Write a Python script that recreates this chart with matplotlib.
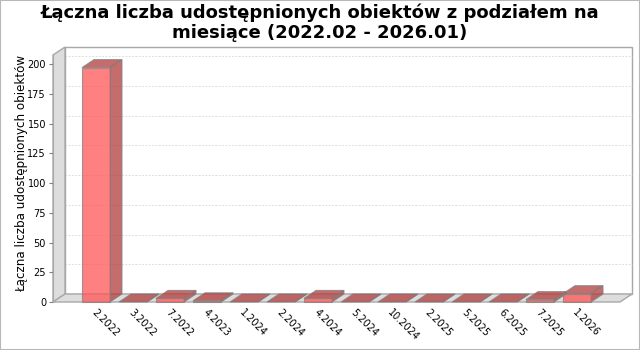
import matplotlib
matplotlib.use("Agg")
import matplotlib.pyplot as plt
from matplotlib.patches import Polygon, Rectangle
from matplotlib.transforms import ScaledTranslation

categories = ["2.2022", "3.2022", "7.2022", "4.2023", "1.2024", "2.2024", "4.2024",
              "5.2024", "10.2024", "2.2025", "5.2025", "6.2025", "7.2025", "1.2026"]
values = [197, 0, 3, 1, 0, 0, 3, 0, 0, 0, 0, 0, 2, 7]
yticks = [0, 25, 50, 75, 100, 125, 150, 175, 200]
title = "Łączna liczba udostępnionych obiektów z podziałem na\nmiesiące (2022.02 - 2026.01)"
ylabel = "Łączna liczba udostępnionych obiektów"

W, H, DPI = 640, 350, 100
fig = plt.figure(figsize=(W / DPI, H / DPI), dpi=DPI)
fig.patch.set_facecolor("white")

# front plot area in pixels
L, R, B, T = 53, 620, 302, 55
ax = fig.add_axes([L / W, 1 - B / H, (R - L) / W, (B - T) / H])
ax.set_facecolor("none")
n = len(categories)
x0, x1 = -1.162, n - 1 + 1.162
ymax = 207.6
ax.set_xlim(x0, x1)
ax.set_ylim(0, ymax)

DX, DY = 12, 8
back = ax.transData + ScaledTranslation(DX / DPI, DY / DPI, fig.dpi_scale_trans)

wall_fc = "#dddddd"
wall_ec = "#a8a8a8"

# back wall outline
ax.add_patch(Polygon([(x0, 0), (x1, 0), (x1, ymax), (x0, ymax)], closed=True,
                     facecolor="white", edgecolor=wall_ec, lw=1.0, transform=back,
                     clip_on=False, zorder=0))
# gridlines on back wall
for t in yticks[1:]:
    ax.plot([x0, x1], [t, t], transform=back, color="#d4d4d4", lw=0.6,
            dashes=(2, 2), clip_on=False, zorder=0.5)


def mixed(points):
    # points: list of (x, y, is_back) -> display coords
    out = []
    for xx, yy, b in points:
        tr = back if b else ax.transData
        out.append(tr.transform((xx, yy)))
    return out


# left wall
ax.add_patch(Polygon(mixed([(x0, 0, False), (x0, 0, True), (x0, ymax, True), (x0, ymax, False)]),
                     closed=True, facecolor=wall_fc, edgecolor=wall_ec, lw=1.0,
                     transform=None, clip_on=False, zorder=1))
# floor
ax.add_patch(Polygon(mixed([(x0, 0, False), (x1, 0, False), (x1, 0, True), (x0, 0, True)]),
                     closed=True, facecolor=wall_fc, edgecolor=wall_ec, lw=1.0,
                     transform=None, clip_on=False, zorder=1))

# bars
bw = 0.757
front_c = "#ff5555"
dark_c = "#b23b3b"
edge_c = "#808080"
alpha = 0.75
for i, v in enumerate(values):
    xl, xr = i - bw / 2, i + bw / 2
    # side face
    ax.add_patch(Polygon(mixed([(xr, 0, False), (xr, 0, True), (xr, v, True), (xr, v, False)]),
                         closed=True, facecolor=dark_c, edgecolor=edge_c, lw=0.8, alpha=alpha,
                         transform=None, clip_on=False, zorder=2))
    # top face
    ax.add_patch(Polygon(mixed([(xl, v, False), (xr, v, False), (xr, v, True), (xl, v, True)]),
                         closed=True, facecolor=dark_c, edgecolor=edge_c, lw=0.8, alpha=alpha,
                         transform=None, clip_on=False, zorder=2))
    # front face
    if v > 0:
        ax.add_patch(Rectangle((xl, 0), bw, v, facecolor=front_c, edgecolor=edge_c,
                               lw=0.8, alpha=alpha, zorder=3, clip_on=False))

# axes styling
for s in ax.spines.values():
    s.set_visible(False)
ax.spines["left"].set_visible(True)
ax.spines["left"].set_color("#a8a8a8")
ax.spines["left"].set_zorder(4)
ax.set_xticks([])
ax.set_yticks(yticks)
ax.tick_params(axis="y", length=3, width=0.8, color="#808080", labelsize=7,
               pad=2, direction="out")

# category labels
lab_tr = ax.transData + ScaledTranslation(-6 / DPI, -5 / DPI, fig.dpi_scale_trans)
for i, c in enumerate(categories):
    ax.text(i, 0, c, transform=lab_tr, rotation=-45, ha="left", va="top",
            fontsize=7, clip_on=False)

fig.text(0.5, 1 - 3 / H, title, ha="center", va="top", fontsize=13,
         fontweight="bold", linespacing=1.15)
fig.text(21.5 / W, 1 - 173 / H, ylabel, rotation=90, ha="center", va="center",
         fontsize=8.6)

# outer border
fig.add_artist(Rectangle((0, 0), 1, 1, transform=fig.transFigure, fill=False,
                         edgecolor="#b8b8b8", lw=1.5, clip_on=False))

fig.savefig("out.png", dpi=DPI)
